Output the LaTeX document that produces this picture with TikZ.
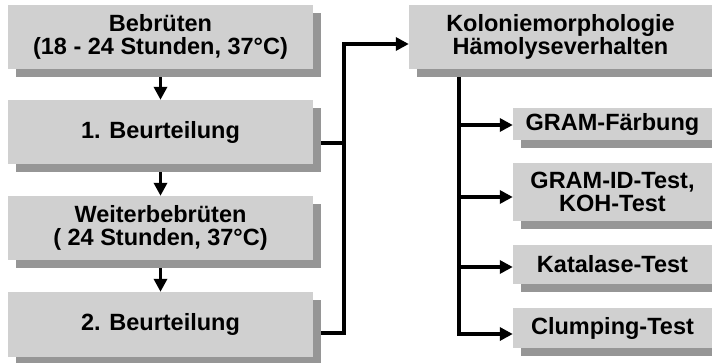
\documentclass[tikz,border=0pt]{standalone}
\usepackage{fontspec}
\setmainfont{Liberation Sans}
\usetikzlibrary{arrows.meta,shadows}

\definecolor{boxgray}{RGB}{208,208,208}
\definecolor{shadowgray}{RGB}{150,150,150}

\begin{document}
\begin{tikzpicture}
[x=1pt,y=-1pt,>={Triangle[length=13pt,width=13pt]},
box/.style={fill=boxgray,inner sep=0pt,align=center,
  font=\fontsize{23.5}{23}\selectfont\bfseries,
  drop shadow={shadow xshift=8pt,shadow yshift=-8pt,fill=shadowgray,opacity=1}},
link/.style={line width=3.3pt},]

\clip (0,0) rectangle (712,362);
\useasboundingbox (0,0) rectangle (712,362);

%Left column
\def\lw{305}
\node (bebrueten) at (160.5,37)[box,minimum width=\lw,minimum height=64] {Bebrüten\\(18 - 24 Stunden, 37°C)};
\node (beurt1) at (160.5,132)[box,minimum width=\lw,minimum height=64] {1. Beurteilung};
\node (weiter) at (160.5,228)[box,minimum width=\lw,minimum height=64] {Weiterbebrüten\\( 24 Stunden, 37°C)};
\node (beurt2) at (160.5,324.5)[box,minimum width=\lw,minimum height=65] {2. Beurteilung};

%Right column
\def\rw{199}
\node (kolonie) at (560.5,37)[box,minimum width=303,minimum height=64] {Koloniemorphologie\\Hämolyseverhalten};
\node (gram) at (612.5,124)[box,minimum width=\rw,minimum height=32] {GRAM-Färbung};
\node (gramid) at (612.5,192)[box,minimum width=\rw,minimum height=58] {GRAM-ID-Test,\\KOH-Test};
\node (katalase) at (612.5,264.5)[box,minimum width=\rw,minimum height=39] {Katalase-Test};
\node (clumping) at (612.5,328)[box,minimum width=\rw,minimum height=40] {Clumping-Test};

%Arrows down the left column
\draw[link,->] ([yshift=-8pt]bebrueten.south) -- (beurt1.north);
\draw[link,->] ([yshift=-8pt]beurt1.south) -- (weiter.north);
\draw[link,->] ([yshift=-8pt]weiter.south) -- (beurt2.north);

%Both assessments lead to the colony check
\coordinate (join) at (344,44);
\draw[link,->] ([xshift=8pt,yshift=-11pt]beurt1.east) -| (join) -- ([yshift=-7pt]kolonie.west);
\draw[link] ([xshift=8pt,yshift=-8.5pt]beurt2.east) -| (join);

%Tests branching off
\coordinate (trunk) at (459,334);
\draw[link] (kolonie.south -| trunk) ++(0,8) -- (trunk);
\draw[link,->] (trunk |- gram.west) ++(0,1) -- ([yshift=-1pt]gram.west);
\draw[link,->] (trunk |- gramid.west) ++(0,5) -- ([yshift=-5pt]gramid.west);
\draw[link,->] (trunk |- katalase.west) ++(0,2.5) -- ([yshift=-2.5pt]katalase.west);
\draw[link,->] ([xshift=-1.6pt]trunk) -- ([yshift=-6pt]clumping.west);

\end{tikzpicture}
\end{document}
